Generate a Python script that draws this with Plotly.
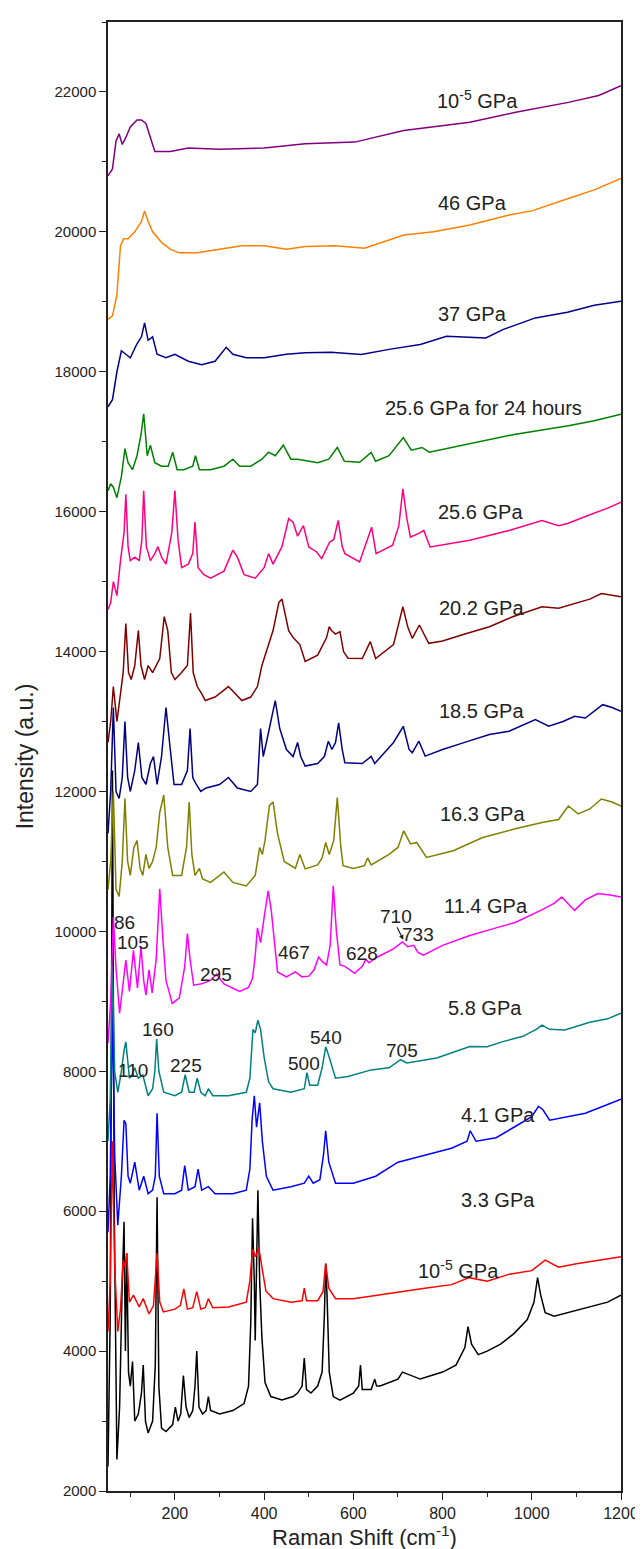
import plotly.graph_objects as go

# ---------------- data ----------------
labels = ["10<sup>-5</sup> GPa", "3.3 GPa", "4.1 GPa", "5.8 GPa", "11.4 GPa", "16.3 GPa",
          "18.5 GPa", "20.2 GPa", "25.6 GPa", "25.6 GPa for 24 hours", "37 GPa", "46 GPa",
          "10<sup>-5</sup> GPa"]

x_s1 = [50, 55, 60, 64, 70, 76, 82, 86, 89, 92, 96, 100, 105, 110, 118, 125, 129, 134, 140, 150, 156, 160, 164, 170, 180, 195, 201, 207, 213, 219, 225, 232, 240, 245, 249, 254, 262, 270, 275, 280, 300, 330, 355, 365, 370, 374, 378, 380, 383, 386, 390, 395, 402, 415, 440, 465, 475, 485, 490, 495, 505, 520, 530, 535, 538, 541, 546, 555, 570, 600, 612, 616, 620, 640, 648, 652, 660, 700, 710, 750, 800, 830, 850, 857, 865, 880, 900, 930, 960, 990, 1005, 1013, 1020, 1030, 1050, 1080, 1110, 1140, 1170, 1200]
y_s1 = [2350, 4500, 12300, 6000, 2450, 3200, 5000, 5850, 4000, 5400, 3700, 3500, 3850, 3000, 3100, 3400, 3800, 3000, 2830, 3000, 3800, 6200, 3500, 2900, 2850, 2950, 3200, 3000, 3100, 3650, 3200, 3050, 3150, 3500, 4000, 3200, 3100, 3150, 3350, 3150, 3100, 3150, 3250, 3500, 4400, 5900, 5000, 4150, 5200, 6300, 5000, 4200, 3550, 3350, 3300, 3350, 3400, 3500, 3900, 3450, 3400, 3500, 3700, 4500, 5250, 4800, 3700, 3350, 3300, 3400, 3500, 3800, 3450, 3450, 3600, 3500, 3500, 3600, 3700, 3600, 3700, 3800, 4050, 4350, 4100, 3950, 4000, 4100, 4250, 4450, 4700, 5050, 4800, 4550, 4500, 4550, 4600, 4650, 4700, 4800]

x_s2 = [50, 55, 60, 65, 72, 78, 84, 88, 92, 98, 107, 120, 129, 142, 152, 160, 166, 174, 200, 212, 220, 228, 240, 249, 258, 268, 275, 285, 320, 360, 368, 374, 381, 388, 395, 404, 420, 460, 485, 490, 495, 520, 532, 538, 545, 560, 600, 650, 700, 760, 820, 860, 900, 950, 1000, 1030, 1060, 1100, 1150, 1200]
y_s2 = [4280, 5000, 7000, 5200, 4280, 4600, 5300, 5200, 5400, 4700, 4800, 4630, 4750, 4530, 4650, 5400, 4700, 4560, 4600, 4650, 4890, 4600, 4620, 4850, 4600, 4620, 4750, 4620, 4630, 4700, 5000, 5460, 5350, 5480, 5200, 4860, 4750, 4700, 4720, 4900, 4720, 4720, 4850, 5250, 4900, 4750, 4750, 4800, 4850, 4900, 4950, 5050, 5000, 5100, 5150, 5300, 5200, 5250, 5300, 5350]

x_s3 = [50, 55, 60, 65, 72, 80, 86, 90, 95, 100, 110, 120, 130, 140, 150, 156, 160, 165, 175, 200, 215, 222, 230, 245, 252, 260, 275, 290, 330, 360, 368, 373, 378, 383, 390, 396, 405, 420, 460, 490, 500, 510, 525, 533, 538, 545, 560, 600, 650, 700, 760, 820, 855, 862, 875, 920, 960, 1000, 1015, 1025, 1040, 1080, 1120, 1160, 1200]
y_s3 = [5700, 6500, 9000, 6800, 5800, 6500, 7300, 7250, 6500, 6400, 6700, 6300, 6500, 6250, 6300, 6500, 7400, 6500, 6250, 6250, 6300, 6650, 6300, 6350, 6600, 6300, 6350, 6250, 6250, 6300, 6600, 7300, 7650, 7200, 7550, 7000, 6500, 6300, 6350, 6400, 6500, 6400, 6450, 6800, 7150, 6700, 6400, 6400, 6500, 6700, 6800, 6900, 7000, 7150, 7000, 7050, 7200, 7350, 7500, 7450, 7300, 7350, 7400, 7500, 7600]

x_s4 = [50, 55, 60, 65, 72, 80, 86, 90, 95, 98, 104, 110, 118, 128, 140, 150, 155, 159, 164, 175, 200, 215, 223, 232, 243, 250, 258, 268, 275, 285, 320, 360, 368, 375, 380, 386, 392, 400, 410, 420, 460, 490, 496, 502, 520, 530, 538, 546, 560, 588, 640, 680, 706, 720, 787, 861, 900, 935, 980, 1010, 1023, 1040, 1074, 1130, 1170, 1200]
y_s4 = [7000, 7600, 9500, 8000, 7700, 8000, 8300, 8420, 8100, 7900, 7950, 8050, 7900, 7950, 7650, 7750, 8000, 8460, 8000, 7700, 7650, 7700, 7950, 7700, 7700, 7900, 7700, 7650, 7750, 7650, 7650, 7700, 7900, 8600, 8550, 8730, 8600, 8200, 7850, 7750, 7700, 7750, 7980, 7800, 7800, 8050, 8350, 8200, 7900, 7925, 8020, 8050, 8165, 8120, 8190, 8353, 8350, 8424, 8500, 8600, 8660, 8600, 8590, 8700, 8750, 8830]

x_s5 = [50, 56, 62, 68, 76, 84, 90, 98, 107, 116, 124, 130, 135, 142, 149, 158, 166, 173, 180, 194, 210, 222, 228, 234, 242, 260, 280, 293, 310, 345, 365, 374, 380, 385, 392, 400, 409, 416, 430, 450, 470, 485, 500, 512, 522, 532, 540, 548, 555, 562, 570, 581, 603, 620, 628, 635, 654, 690, 710, 722, 735, 745, 757, 800, 861, 920, 964, 1020, 1050, 1067, 1080, 1096, 1120, 1148, 1175, 1200]
y_s5 = [8400, 9000, 10200, 9470, 8830, 9300, 9590, 9140, 9730, 9190, 9780, 9300, 9090, 9450, 9120, 9600, 10610, 9900, 9300, 8970, 9050, 9500, 9970, 9600, 9230, 9250, 9300, 9390, 9250, 9140, 9200, 9330, 9650, 10050, 9840, 10200, 10580, 10300, 9420, 9350, 9420, 9350, 9360, 9450, 9630, 9560, 9520, 9800, 10650, 10000, 9520, 9500, 9400, 9500, 9600, 9550, 9634, 9750, 9850, 9780, 9800, 9700, 9660, 9800, 9940, 10050, 10130, 10300, 10400, 10490, 10400, 10300, 10450, 10540, 10520, 10490]

x_s6 = [50, 56, 62, 68, 75, 82, 88, 94, 100, 108, 115, 122, 128, 135, 142, 150, 158, 166, 175, 184, 195, 215, 226, 232, 238, 245, 255, 262, 280, 310, 330, 360, 380, 390, 396, 402, 412, 420, 430, 445, 470, 480, 492, 520, 530, 538, 546, 556, 564, 572, 577, 600, 625, 632, 640, 680, 700, 713, 728, 742, 764, 824, 890, 963, 1023, 1060, 1082, 1104, 1130, 1156, 1180, 1200]
y_s6 = [10600, 11000, 12000, 10600, 10500, 11000, 11900, 11000, 10800, 11200, 11300, 10900, 10800, 11100, 10900, 11000, 11200, 11700, 11950, 11200, 10800, 10800, 11200, 11850, 11100, 10800, 10900, 10750, 10700, 10850, 10700, 10650, 10800, 11200, 11100, 11300, 11800, 11850, 11400, 11000, 10900, 11100, 10893, 10950, 11050, 11271, 11100, 11300, 11912, 11200, 10940, 10900, 10940, 11050, 10950, 11100, 11200, 11438, 11250, 11271, 11058, 11153, 11342, 11466, 11556, 11600, 11793, 11680, 11750, 11893, 11850, 11793]

x_s7 = [50, 56, 62, 68, 75, 82, 88, 94, 100, 110, 118, 126, 135, 145, 152, 160, 170, 180, 188, 198, 215, 228, 234, 240, 248, 258, 270, 300, 320, 340, 370, 385, 392, 398, 405, 415, 425, 435, 450, 465, 475, 482, 492, 520, 535, 544, 552, 560, 567, 575, 581, 620, 632, 640, 648, 690, 712, 725, 732, 747, 761, 800, 846, 905, 949, 1008, 1038, 1070, 1096, 1120, 1159, 1180, 1200]
y_s7 = [11400, 12000, 13200, 12000, 11900, 12200, 13000, 12200, 12000, 12300, 12700, 12200, 12100, 12400, 12500, 12100, 12500, 13200, 12700, 12100, 12100, 12300, 12900, 12200, 12100, 12000, 12050, 12100, 12200, 12050, 12000, 12100, 12900, 12500, 12700, 13000, 13300, 12900, 12600, 12500, 12700, 12500, 12363, 12400, 12500, 12719, 12600, 12700, 12980, 12600, 12410, 12400, 12458, 12500, 12400, 12700, 12932, 12600, 12552, 12719, 12506, 12600, 12695, 12814, 12861, 13028, 12932, 13000, 13075, 13050, 13241, 13200, 13146]

x_s8 = [50, 56, 62, 70, 78, 84, 90, 96, 102, 110, 118, 124, 132, 140, 150, 158, 166, 176, 184, 192, 200, 215, 228, 235, 241, 250, 260, 268, 290, 320, 350, 370, 385, 395, 405, 420, 433, 440, 455, 465, 480, 492, 520, 540, 546, 551, 560, 570, 578, 588, 620, 638, 650, 690, 711, 722, 732, 748, 769, 800, 850, 905, 957, 1023, 1060, 1096, 1130, 1156, 1200]
y_s8 = [12700, 13000, 13500, 13000, 13400, 13700, 14400, 13700, 13600, 13800, 14300, 13800, 13600, 13800, 13700, 13800, 13900, 14500, 14300, 13700, 13600, 13700, 13800, 14550, 13700, 13500, 13400, 13300, 13350, 13500, 13300, 13350, 13500, 13800, 14000, 14300, 14700, 14750, 14300, 14200, 14100, 13860, 13950, 14200, 14356, 14300, 14250, 14285, 14000, 13905, 13900, 14142, 13900, 14100, 14640, 14350, 14190, 14380, 14118, 14150, 14250, 14356, 14498, 14640, 14620, 14688, 14750, 14830, 14783]

x_s9 = [50, 56, 62, 70, 78, 86, 90, 95, 100, 110, 120, 126, 130, 136, 145, 155, 162, 170, 180, 193, 200, 207, 215, 230, 240, 245, 252, 265, 280, 310, 330, 340, 355, 380, 400, 410, 420, 440, 455, 465, 475, 488, 500, 518, 529, 547, 556, 566, 575, 581, 614, 641, 651, 688, 702, 711, 720, 728, 750, 758, 772, 861, 949, 1023, 1060, 1080, 1126, 1170, 1200]
y_s9 = [14600, 14700, 15000, 14800, 15300, 15700, 16250, 15500, 15300, 15350, 15300, 15600, 16300, 15500, 15300, 15400, 15500, 15350, 15250, 15700, 16300, 15600, 15200, 15250, 15400, 15850, 15200, 15100, 15050, 15150, 15450, 15350, 15100, 15050, 15200, 15400, 15250, 15500, 15900, 15850, 15650, 15800, 15495, 15424, 15328, 15566, 15600, 15875, 15500, 15400, 15281, 15779, 15400, 15520, 15800, 16325, 15900, 15637, 15700, 15732, 15495, 15590, 15732, 15874, 15800, 15830, 15945, 16050, 16135]

x_s10 = [50, 56, 62, 70, 80, 88, 95, 105, 115, 124, 130, 138, 145, 155, 170, 185, 195, 205, 220, 240, 246, 255, 280, 310, 330, 345, 370, 395, 410, 425, 443, 460, 475, 492, 520, 545, 564, 580, 614, 640, 650, 680, 712, 730, 754, 770, 861, 964, 1082, 1140, 1200]
y_s10 = [16300, 16400, 16350, 16200, 16500, 16900, 16700, 16600, 16800, 17100, 17400, 16800, 16950, 16700, 16650, 16650, 16850, 16600, 16600, 16650, 16800, 16600, 16600, 16650, 16750, 16650, 16650, 16750, 16850, 16800, 16950, 16750, 16750, 16728, 16700, 16750, 16918, 16720, 16705, 16847, 16720, 16800, 17060, 16880, 16918, 16850, 16966, 17108, 17227, 17300, 17393]

x_s11 = [50, 60, 70, 80, 90, 100, 115, 125, 132, 140, 150, 160, 180, 200, 230, 260, 290, 315, 330, 360, 400, 450, 492, 550, 618, 680, 750, 809, 897, 935, 1008, 1080, 1140, 1200]
y_s11 = [17500, 17600, 18000, 18300, 18250, 18200, 18400, 18500, 18700, 18450, 18500, 18250, 18200, 18250, 18150, 18100, 18150, 18350, 18250, 18200, 18200, 18250, 18270, 18280, 18247, 18320, 18390, 18508, 18484, 18603, 18770, 18850, 18950, 19007]

x_s12 = [50, 60, 70, 78, 85, 95, 110, 125, 132, 140, 150, 170, 190, 210, 250, 300, 350, 400, 450, 492, 560, 625, 713, 780, 861, 949, 1000, 1082, 1140, 1200]
y_s12 = [18750, 18800, 19100, 19800, 19900, 19900, 20000, 20150, 20300, 20150, 20000, 19850, 19750, 19700, 19700, 19750, 19800, 19800, 19750, 19789, 19800, 19765, 19955, 20000, 20097, 20240, 20300, 20477, 20600, 20762]

x_s13 = [50, 60, 68, 75, 82, 90, 100, 115, 125, 135, 145, 155, 165, 190, 230, 300, 400, 492, 603, 713, 861, 964, 1082, 1150, 1200]
y_s13 = [20800, 20900, 21300, 21400, 21250, 21350, 21500, 21600, 21600, 21550, 21350, 21150, 21150, 21150, 21200, 21180, 21200, 21260, 21283, 21449, 21567, 21709, 21851, 21950, 22090]

peak_labels = ["86", "105", "295", "467", "628", "710", "733", "160", "110", "225", "500", "540", "705"]

# ---------------- styling / placement ----------------
colors = ["#000000", "#ff0000", "#0000ff", "#008080", "#ff00ff", "#808000",
          "#000080", "#800000", "#ff0080", "#008000", "#00008b", "#ff8000", "#800080"]
xs = [x_s1, x_s2, x_s3, x_s4, x_s5, x_s6, x_s7, x_s8, x_s9, x_s10, x_s11, x_s12, x_s13]
ys = [y_s1, y_s2, y_s3, y_s4, y_s5, y_s6, y_s7, y_s8, y_s9, y_s10, y_s11, y_s12, y_s13]
label_pos = [(835, 5170), (925, 6160), (925, 7380), (895, 8904), (897, 10356), (890, 11680),
             (888, 13146), (888, 14626), (884, 15993), (892, 17488), (868, 18826), (868, 20413),
             (879, 21886)]
peak_pos = [(87, 10120), (106, 9840), (293, 9388), (468, 9694), (620, 9680), (696, 10214),
            (746, 9957), (161, 8591), (105, 8007), (225, 8078), (490, 8114), (539, 8484),
            (709, 8299)]

FONT = "Arial, Liberation Sans, sans-serif"
fig = go.Figure()
for xv, yv, c, name in zip(xs, ys, colors, labels):
    fig.add_trace(go.Scatter(x=xv, y=yv, mode="lines", name=name,
                             line=dict(color=c, width=1.5), showlegend=False))

for name, (px, py) in zip(labels, label_pos):
    fig.add_annotation(x=px, y=py, text=name, showarrow=False,
                       font=dict(family=FONT, size=20, color="#222"))
for t, (px, py) in zip(peak_labels, peak_pos):
    fig.add_annotation(x=px, y=py, text=t, showarrow=False,
                       font=dict(family=FONT, size=19, color="#222"))
# small arrow from "710" to the 710 peak
fig.add_annotation(x=712, y=9880, ax=-7, ay=-14, text="", showarrow=True,
                   arrowhead=2, arrowsize=0.8, arrowwidth=1.2, arrowcolor="#222")

fig.update_layout(
    width=643, height=1549,
    margin=dict(l=100, r=22, t=14, b=61),
    paper_bgcolor="white", plot_bgcolor="white",
    font=dict(family=FONT, color="#222"),
    xaxis=dict(range=[50, 1200], tick0=0, dtick=200, ticks="outside", ticklen=7,
               tickwidth=1.3, tickcolor="#222", showline=True, linecolor="#222",
               linewidth=1.5, mirror=True, showgrid=False, zeroline=False,
               tickfont=dict(size=16), tickformat="d",
               minor=dict(dtick=100, tick0=0, ticks="outside", ticklen=4, tickcolor="#222"),
               title=dict(text="Raman Shift (cm<sup>-1</sup>)", font=dict(size=22), standoff=8)),
    yaxis=dict(range=[2000, 23000], tick0=0, dtick=2000, ticks="outside", ticklen=7,
               tickwidth=1.3, tickcolor="#222", showline=True, linecolor="#222",
               linewidth=1.5, mirror=True, showgrid=False, zeroline=False,
               tickfont=dict(size=15), tickformat="d",
               minor=dict(dtick=1000, tick0=0, ticks="outside", ticklen=4, tickcolor="#222"),
               title=dict(text="Intensity (a.u.)", font=dict(size=23), standoff=14)),
)

fig.write_html("out.html")
